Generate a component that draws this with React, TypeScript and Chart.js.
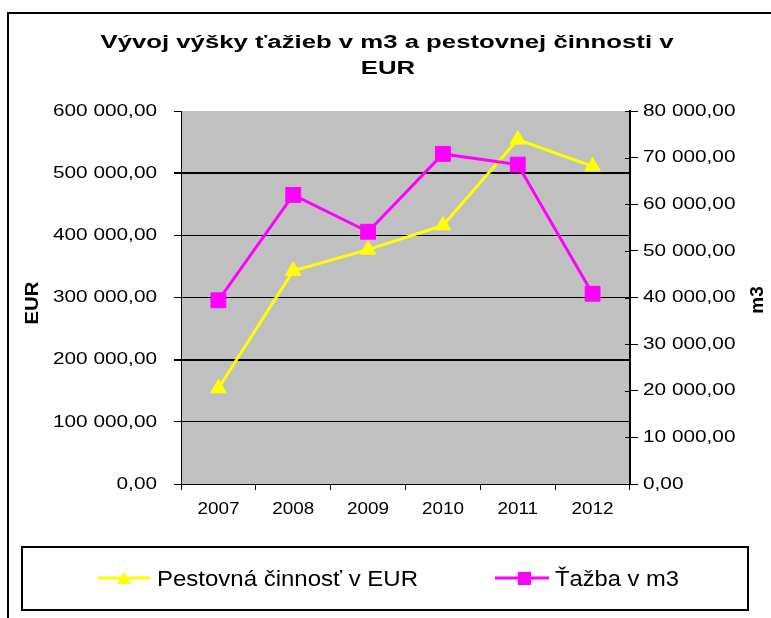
import React, { useEffect, useRef } from 'react';
import { Chart, registerables } from 'chart.js';

Chart.register(...registerables);

const years = ['2007', '2008', '2009', '2010', '2011', '2012'];
const pestovnaEUR = [154000, 343000, 377000, 416000, 554000, 511000];
const tazbaM3 = [39400, 62000, 54100, 70800, 68500, 40800];
const seriesNames = ['Pestovná činnosť v EUR', 'Ťažba v m3'];
const titleLines = ['Vývoj výšky ťažieb v m3 a pestovnej činnosti v', 'EUR'];
const eurAxisTitle = 'EUR';
const m3AxisTitle = 'm3';
const eurMax = 600000;
const eurStep = 100000;
const m3Max = 80000;
const m3Step = 10000;

const YELLOW = '#FFFF00';
const MAGENTA = '#FF00FF';
const PLOT_BG = '#C0C0C0';
const FONT = '"Liberation Sans", Arial, sans-serif';

function fmt(v: number): string {
  const s = Math.round(v).toString().replace(/\B(?=(\d{3})+(?!\d))/g, ' ');
  return s + ',00';
}

function drawText(
  ctx: CanvasRenderingContext2D,
  text: string,
  x: number,
  y: number,
  font: string,
  sx: number,
  align: CanvasTextAlign,
  baseline: CanvasTextBaseline = 'alphabetic',
  rot = 0
) {
  ctx.save();
  ctx.translate(x, y);
  if (rot) ctx.rotate(rot);
  ctx.scale(sx, 1);
  ctx.font = font;
  ctx.textAlign = align;
  ctx.textBaseline = baseline;
  ctx.fillStyle = '#000';
  ctx.fillText(text, 0, 0);
  ctx.restore();
}

function scaleFor(ctx: CanvasRenderingContext2D, text: string, font: string, target: number) {
  ctx.save();
  ctx.font = font;
  const w = ctx.measureText(text).width;
  ctx.restore();
  return w > 0 ? target / w : 1;
}

const decor = {
  id: 'decor',
  beforeDraw(chart: any) {
    const { ctx, chartArea: a } = chart;
    ctx.save();
    ctx.fillStyle = PLOT_BG;
    ctx.fillRect(a.left, a.top, a.right - a.left, a.bottom - a.top);
    ctx.restore();
  },
  afterDraw(chart: any) {
    const ctx: CanvasRenderingContext2D = chart.ctx;
    const a = chart.chartArea;
    const ys = chart.scales.y;
    const y1s = chart.scales.y1;
    const xs = chart.scales.x;

    // inner stubs of right axis ticks
    ctx.save();
    ctx.strokeStyle = '#000';
    ctx.lineWidth = 1;
    y1s.ticks.forEach((t: any) => {
      const py = Math.round(y1s.getPixelForValue(t.value)) + 0.5;
      ctx.beginPath();
      ctx.moveTo(a.right - 5, py);
      ctx.lineTo(a.right, py);
      ctx.stroke();
    });
    ctx.restore();

    // tick labels
    const tickFont = `17px ${FONT}`;
    const tsx = scaleFor(ctx, fmt(eurMax), tickFont, 104);
    ys.ticks.forEach((t: any) => {
      drawText(ctx, fmt(t.value), 157, ys.getPixelForValue(t.value), tickFont, tsx, 'right', 'middle');
    });
    y1s.ticks.forEach((t: any) => {
      drawText(ctx, fmt(t.value), 643, y1s.getPixelForValue(t.value), tickFont, tsx, 'left', 'middle');
    });
    const xsx = scaleFor(ctx, years[0], tickFont, 42);
    xs.ticks.forEach((t: any) => {
      drawText(ctx, xs.getLabelForValue(t.value), xs.getPixelForValue(t.value), 509, tickFont, xsx, 'center', 'middle');
    });

    // axis titles
    const axFont = `bold 18px ${FONT}`;
    drawText(ctx, eurAxisTitle, 33, 303, axFont, 1.13, 'center', 'middle', -Math.PI / 2);
    drawText(ctx, m3AxisTitle, 758, 300, axFont, 1.05, 'center', 'middle', -Math.PI / 2);

    // title
    const titleFont = `bold 18px ${FONT}`;
    const tts = scaleFor(ctx, titleLines[0], titleFont, 573);
    drawText(ctx, titleLines[0], 387, 48, titleFont, tts, 'center');
    drawText(ctx, titleLines[1], 388, 74, titleFont, tts, 'center');

    // legend
    ctx.save();
    ctx.strokeStyle = '#000';
    ctx.lineWidth = 2;
    ctx.strokeRect(22, 547, 726, 63);
    // yellow item
    ctx.strokeStyle = YELLOW;
    ctx.lineWidth = 3;
    ctx.beginPath();
    ctx.moveTo(98, 578);
    ctx.lineTo(150, 578);
    ctx.stroke();
    ctx.fillStyle = YELLOW;
    const cx = 124, cy = 580, r = 8;
    ctx.beginPath();
    ctx.moveTo(cx, cy - r);
    ctx.lineTo(cx + r * 0.866, cy + r / 2);
    ctx.lineTo(cx - r * 0.866, cy + r / 2);
    ctx.closePath();
    ctx.fill();
    // magenta item
    ctx.strokeStyle = MAGENTA;
    ctx.beginPath();
    ctx.moveTo(495, 578);
    ctx.lineTo(549, 578);
    ctx.stroke();
    ctx.fillStyle = MAGENTA;
    ctx.fillRect(518, 572, 13, 13);
    ctx.restore();
    const legFont = `22px ${FONT}`;
    drawText(ctx, seriesNames[0], 157, 586, legFont, scaleFor(ctx, seriesNames[0], legFont, 261), 'left');
    drawText(ctx, seriesNames[1], 555, 586, legFont, scaleFor(ctx, seriesNames[1], legFont, 124), 'left');

    // outer chart border
    ctx.save();
    ctx.fillStyle = '#000';
    ctx.fillRect(8, 12, 763, 2);
    ctx.fillRect(7, 12, 2, 606);
    ctx.restore();
  },
};

export default function App() {
  const ref = useRef<HTMLCanvasElement | null>(null);
  useEffect(() => {
    if (!ref.current) return;
    const chart = new Chart(ref.current, {
      type: 'line',
      data: {
        labels: years,
        datasets: [
          {
            label: seriesNames[0],
            data: pestovnaEUR,
            yAxisID: 'y',
            borderColor: YELLOW,
            backgroundColor: YELLOW,
            borderWidth: 3,
            pointStyle: 'triangle',
            pointRadius: 9,
            pointBorderWidth: 1,
            pointBackgroundColor: YELLOW,
            pointBorderColor: YELLOW,
            tension: 0,
            order: 1,
          },
          {
            label: seriesNames[1],
            data: tazbaM3,
            yAxisID: 'y1',
            borderColor: MAGENTA,
            backgroundColor: MAGENTA,
            borderWidth: 3,
            pointStyle: 'rect',
            pointRadius: 10.5,
            pointBorderWidth: 1,
            pointBackgroundColor: MAGENTA,
            pointBorderColor: MAGENTA,
            tension: 0,
            order: 0,
          },
        ],
      },
      options: {
        responsive: false,
        animation: false,
        devicePixelRatio: 1,
        layout: { padding: { top: 111, left: 0, right: 0, bottom: 0 } },
        plugins: {
          legend: { display: false },
          title: { display: false },
          tooltip: { enabled: false },
        },
        scales: {
          x: {
            type: 'category',
            offset: true,
            grid: {
              offset: true,
              drawOnChartArea: false,
              drawTicks: true,
              tickLength: 6,
              color: '#000',
            },
            border: { display: true, color: '#000', width: 1 },
            ticks: { display: false },
            afterFit: (s: any) => {
              s.height = 134;
            },
          },
          y: {
            position: 'left',
            min: 0,
            max: eurMax,
            ticks: { display: false, stepSize: eurStep },
            grid: {
              drawTicks: true,
              tickLength: 7,
              tickColor: '#000',
              color: (c: any) => (c.tick && c.tick.value === eurMax ? 'rgba(0,0,0,0)' : '#000'),
              lineWidth: (c: any) =>
                c.tick && (c.tick.value === 500000 || c.tick.value === 200000) ? 2 : 1,
            },
            border: { display: true, color: '#000', width: 1 },
            afterFit: (s: any) => {
              s.width = 181;
            },
          },
          y1: {
            position: 'right',
            min: 0,
            max: m3Max,
            ticks: { display: false, stepSize: m3Step },
            grid: {
              drawOnChartArea: false,
              drawTicks: true,
              tickLength: 8,
              color: '#000',
            },
            border: { display: true, color: '#000', width: 2 },
            afterFit: (s: any) => {
              s.width = 141;
            },
          },
        },
      },
      plugins: [decor],
    });
    return () => chart.destroy();
  }, []);

  return (
    <div style={{ position: 'absolute', left: 0, top: 0, width: 771, height: 618, background: '#fff' }}>
      <canvas ref={ref} width={771} height={618} />
    </div>
  );
}
